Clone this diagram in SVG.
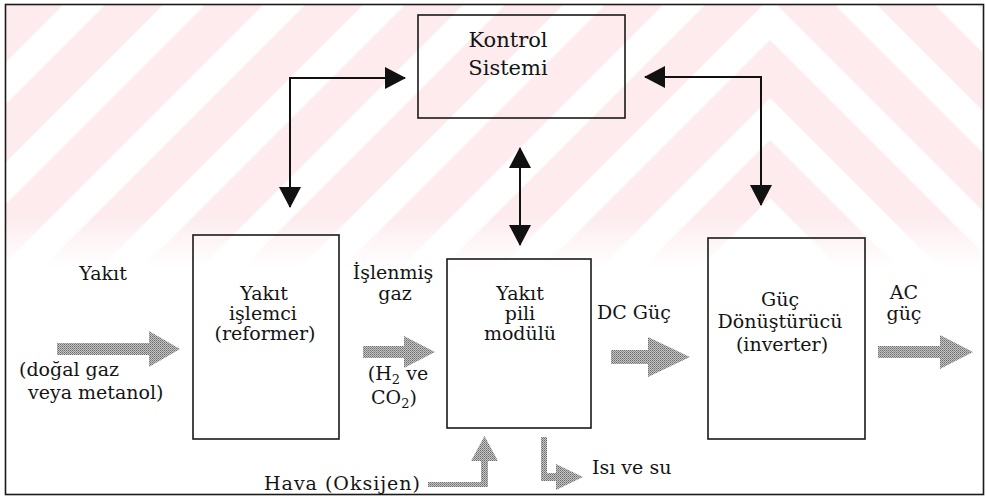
<svg xmlns="http://www.w3.org/2000/svg" width="986" height="500" viewBox="0 0 986 500">
<style>
  .box { fill: none; stroke: #1a1a1a; stroke-width: 1.6; }
  .t { font-family: "DejaVu Serif", "Liberation Serif", serif; font-size: 19px; fill: #141414; }
  .tc { text-anchor: middle; }
  .conn { fill: none; stroke: #111; stroke-width: 2; }
  .flow { fill: url(#dither); }
  .wm { fill: #fdebee; }
</style>
<defs>
  <pattern id="dither" width="2" height="2" patternUnits="userSpaceOnUse">
    <rect width="2" height="2" fill="#c4c4c4"/>
    <rect width="1" height="1" fill="#6c6c6c"/>
    <rect x="1" y="1" width="1" height="1" fill="#8c8c8c"/>
  </pattern>
  <marker id="ah" markerUnits="userSpaceOnUse" markerWidth="21" markerHeight="22" viewBox="0 0 21 22" refX="20" refY="11" orient="auto-start-reverse">
    <path d="M0,0 L21,11 L0,22 z" fill="#111"/>
  </marker>
  <path id="chev" d="M-230,1000 L770,0 L1770,1000 L1770,1058 L770,58 L-230,1058 Z"/>
  <linearGradient id="fade" gradientUnits="userSpaceOnUse" x1="0" y1="215" x2="0" y2="268">
    <stop offset="0" stop-color="#fff" stop-opacity="1"/>
    <stop offset="1" stop-color="#fff" stop-opacity="0"/>
  </linearGradient>
  <mask id="wmmask" maskUnits="userSpaceOnUse" x="0" y="0" width="986" height="500">
    <rect x="6" y="5" width="976" height="265" fill="url(#fade)"/>
  </mask>
</defs>

<rect width="986" height="500" fill="#ffffff"/>

<g id="watermark" mask="url(#wmmask)">
  <g class="wm">
    <use href="#chev" transform="translate(0,-960)"/>
    <use href="#chev" transform="translate(0,-860)"/>
    <use href="#chev" transform="translate(0,-760)"/>
    <use href="#chev" transform="translate(0,-660)"/>
    <use href="#chev" transform="translate(0,-560)"/>
    <use href="#chev" transform="translate(0,-460)"/>
    <use href="#chev" transform="translate(0,-360)"/>
    <use href="#chev" transform="translate(0,-260)"/>
    <use href="#chev" transform="translate(0,-160)"/>
    <use href="#chev" transform="translate(0,-60)"/>
    <use href="#chev" transform="translate(0,40)"/>
    <use href="#chev" transform="translate(0,140)"/>
  </g>
</g>

<rect id="frame" x="5.5" y="4.5" width="978" height="490" class="box"/>

<g id="connectors">
  <path class="conn" d="M405,78 H290 V207" marker-start="url(#ah)" marker-end="url(#ah)"/>
  <path class="conn" d="M645,77 H761 V205" marker-start="url(#ah)" marker-end="url(#ah)"/>
  <path class="conn" d="M520,148 V245" marker-start="url(#ah)" marker-end="url(#ah)"/>
</g>

<g id="flows">
  <polygon id="fuel-arrow" class="flow" points="57,343 149,343 149,331 180,349 149,367 149,355 57,355"/>
  <polygon id="gas-arrow" class="flow" points="363,346 404,346 404,336 435,352 404,368 404,358 363,358"/>
  <polygon id="dc-arrow" class="flow" points="611,350 648,350 648,337 690,357 648,377 648,364 611,364"/>
  <polygon id="ac-arrow" class="flow" points="878,346 940,346 940,335 973,352 940,369 940,358 878,358"/>
  <polygon id="air-arrow" class="flow" points="428,482 481,482 481,461 471,461 484.5,436 498,461 488,461 488,487 428,487"/>
  <polygon id="heat-arrow" class="flow" points="541,437 547,437 547,473 556,473 556,464 583,477 556,490 556,481 541,481"/>
</g>

<g id="kontrol">
  <rect class="box" x="418" y="15" width="207" height="103"/>
  <text class="t tc" x="508" y="47" style="font-size:21px">Kontrol</text>
  <text class="t tc" x="508" y="75" style="font-size:21px">Sistemi</text>
</g>

<g id="yakit-islemci">
  <rect class="box" x="193" y="235" width="146" height="204"/>
  <text class="t tc" x="264" y="300">Yakıt</text>
  <text class="t tc" x="263" y="320">işlemci</text>
  <text class="t tc" x="265" y="340">(reformer)</text>
</g>

<g id="yakit-pili">
  <rect class="box" x="447" y="259" width="144" height="169"/>
  <text class="t tc" x="520" y="300">Yakıt</text>
  <text class="t tc" x="520" y="320">pili</text>
  <text class="t tc" x="520" y="340">modülü</text>
</g>

<g id="guc-donusturucu">
  <rect class="box" x="708" y="238" width="157" height="201"/>
  <text class="t tc" x="780" y="306">Güç</text>
  <text class="t tc" x="780" y="328">Dönüştürücü</text>
  <text class="t tc" x="782" y="351">(inverter)</text>
</g>

<g id="labels">
  <text class="t tc" x="103" y="280">Yakıt</text>
  <text class="t" x="19" y="376">(doğal gaz</text>
  <text class="t" x="28" y="399">veya metanol)</text>
  <text class="t tc" x="393" y="279">İşlenmiş</text>
  <text class="t tc" x="395" y="300">gaz</text>
  <text class="t tc" x="398" y="380">(H<tspan font-size="13" dy="4">2</tspan><tspan dy="-4"> ve</tspan></text>
  <text class="t tc" x="394" y="404">CO<tspan font-size="13" dy="4">2</tspan><tspan dy="-4">)</tspan></text>
  <text class="t" x="597" y="319">DC Güç</text>
  <text class="t tc" x="904" y="299">AC</text>
  <text class="t tc" x="904" y="320">güç</text>
  <text class="t" x="264" y="490" textLength="156">Hava (Oksijen)</text>
  <text class="t" x="592" y="474">Isı ve su</text>
</g>
</svg>
